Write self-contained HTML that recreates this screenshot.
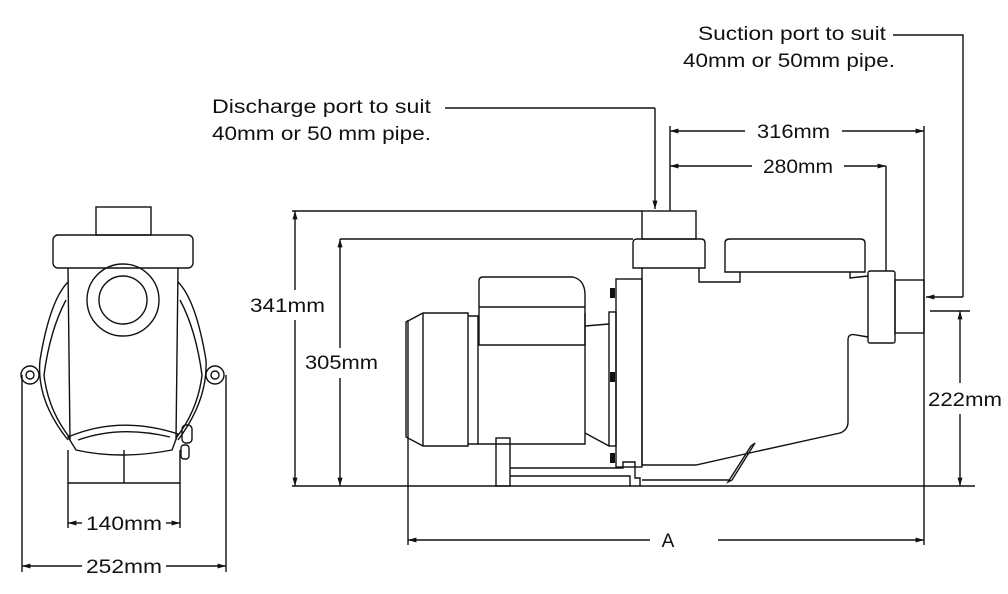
<!DOCTYPE html>
<html><head><style>html,body{margin:0;padding:0;background:#fff}svg{display:block}</style></head><body>
<svg width="1008" height="594" viewBox="0 0 1008 594" xmlns="http://www.w3.org/2000/svg" font-family="Liberation Sans, sans-serif" font-size="19" fill="none" stroke="#111" stroke-width="1.4">
<defs><marker id="ar" viewBox="0 0 10 10" refX="10" refY="5" markerWidth="8" markerHeight="6" orient="auto-start-reverse"><path d="M0,2 L10,5 L0,8 z" fill="#111" stroke="none"/></marker></defs>
<!-- LEFT VIEW -->
<rect x="96" y="207" width="55" height="28"/>
<rect x="53" y="235" width="140" height="33" rx="5"/>
<path d="M68,268 L70,440 M178,268 L176,440"/>
<circle cx="123" cy="300" r="36"/><circle cx="123" cy="300" r="24"/>
<path d="M68,282 Q50,300 40,360 Q36,400 68,440"/>
<path d="M66,300 Q50,330 44,375 Q48,410 70,438"/>
<path d="M178,282 Q196,300 206,360 Q208,400 178,440"/>
<path d="M180,300 Q196,330 202,375 Q198,410 176,438"/>
<circle cx="30" cy="375" r="9"/><circle cx="30" cy="375" r="4"/>
<circle cx="215" cy="375" r="9"/><circle cx="215" cy="375" r="4"/>
<path d="M68,437 Q120,415 178,434 L172,450 Q120,460 76,450 Z"/>
<path d="M78,440 Q120,425 170,437"/>
<rect x="182" y="425" width="10" height="18" rx="4"/><rect x="181" y="445" width="8" height="14" rx="3"/>
<path d="M68,450 L68,483 L180,483 L180,450 M124,450 L124,483"/>
<path d="M68,483 L68,528 M180,483 L180,528 M22,375 L22,572 M226,375 L226,572"/>
<line x1="68" y1="523" x2="82" y2="523" marker-start="url(#ar)"/><line x1="166" y1="523" x2="180" y2="523" marker-end="url(#ar)"/>
<line x1="22" y1="566" x2="82" y2="566" marker-start="url(#ar)"/><line x1="166" y1="566" x2="226" y2="566" marker-end="url(#ar)"/>
<g fill="#111" stroke="none"><text x="124" y="530" text-anchor="middle" textLength="76" lengthAdjust="spacingAndGlyphs">140mm</text>
<text x="124" y="573" text-anchor="middle" textLength="76" lengthAdjust="spacingAndGlyphs">252mm</text></g>
<!-- RIGHT VIEW -->
<path d="M292,211 L642,211 M340,239 L633,239 M292,486 L975,486"/>
<rect x="642" y="211" width="54" height="28"/>
<path d="M633,268 L633,243 Q633,239 637,239 L701,239 Q705,239 705,243 L705,268 Z"/>
<path d="M699,268 L699,282 L740,282 L740,272"/>
<path d="M725,272 L725,243 Q725,239 730,239 L860,239 Q865,239 865,243 L865,272 Z"/>
<path d="M850,272 L850,278 L868,276"/>
<path d="M406,322 L423,313 L468,313 L468,446 L423,446 L406,437 Z M423,313 L423,446"/>
<path d="M468,316 L478,316 L478,444 L468,444 M478,444 L585,444 L585,313"/>
<path d="M479,345 L479,281 Q479,277 483,277 L573,277 Q585,280 585,295 L585,345 Z M479,307 L585,307"/>
<path d="M585,326 L609,324 M585,433 L609,446"/>
<rect x="609" y="312" width="7" height="134"/>
<rect x="616" y="279" width="26" height="188"/>
<g fill="#111" stroke="none"><rect x="610" y="288" width="5" height="10"/><rect x="610" y="372" width="5" height="10"/><rect x="610" y="453" width="5" height="10"/></g>
<path d="M642,268 L642,465 L696,465 L754,452 L840,433 Q848,430 848,422 L848,340 Q848,333 856,335 L868,337"/>
<path d="M751,446 L755,443 L732,480 L728,482 Z"/>
<rect x="868" y="271" width="27" height="72" rx="2"/>
<rect x="895" y="280" width="29" height="53"/>
<rect x="496" y="438" width="14" height="48"/>
<path d="M510,468 L623,468 L623,462 L635,462 L635,478 L640,478 L640,486 M510,476 L630,476 L630,486 M642,480 L730,480"/>
<!-- dims -->
<line x1="295" y1="211" x2="295" y2="290" marker-start="url(#ar)"/><line x1="295" y1="320" x2="295" y2="486" marker-end="url(#ar)"/>
<line x1="340" y1="239" x2="340" y2="348" marker-start="url(#ar)"/><line x1="340" y1="378" x2="340" y2="486" marker-end="url(#ar)"/>
<path d="M930,311 L970,311"/>
<line x1="960" y1="311" x2="960" y2="383" marker-start="url(#ar)"/><line x1="960" y1="414" x2="960" y2="486" marker-end="url(#ar)"/>
<path d="M670,126 L670,211 M886,166 L886,271 M924,126 L924,545 M408,320 L408,545"/>
<line x1="670" y1="131" x2="745" y2="131" marker-start="url(#ar)"/><line x1="842" y1="131" x2="924" y2="131" marker-end="url(#ar)"/>
<line x1="670" y1="166" x2="752" y2="166" marker-start="url(#ar)"/><line x1="844" y1="166" x2="886" y2="166" marker-end="url(#ar)"/>
<line x1="408" y1="540" x2="650" y2="540" marker-start="url(#ar)"/><line x1="718" y1="540" x2="924" y2="540" marker-end="url(#ar)"/>
<path d="M445,108 L655,108"/><line x1="655" y1="108" x2="655" y2="209" marker-end="url(#ar)"/>
<path d="M893,35 L963,35 L963,297"/><line x1="963" y1="297" x2="926" y2="297" marker-end="url(#ar)"/>
<g fill="#111" stroke="none">
<text x="250" y="312" textLength="75" lengthAdjust="spacingAndGlyphs">341mm</text>
<text x="305" y="369" textLength="73" lengthAdjust="spacingAndGlyphs">305mm</text>
<text x="928" y="406" textLength="74" lengthAdjust="spacingAndGlyphs">222mm</text>
<text x="757" y="138" textLength="73" lengthAdjust="spacingAndGlyphs">316mm</text>
<text x="763" y="173" textLength="70" lengthAdjust="spacingAndGlyphs">280mm</text>
<text x="668" y="547" text-anchor="middle">A</text>
<text x="212" y="113" textLength="219" lengthAdjust="spacingAndGlyphs">Discharge port to suit</text>
<text x="212" y="140" textLength="219" lengthAdjust="spacingAndGlyphs">40mm or 50 mm pipe.</text>
<text x="698" y="40" textLength="188" lengthAdjust="spacingAndGlyphs">Suction port to suit</text>
<text x="683" y="67" textLength="212" lengthAdjust="spacingAndGlyphs">40mm or 50mm pipe.</text>
</g>
</svg>
</body></html>
